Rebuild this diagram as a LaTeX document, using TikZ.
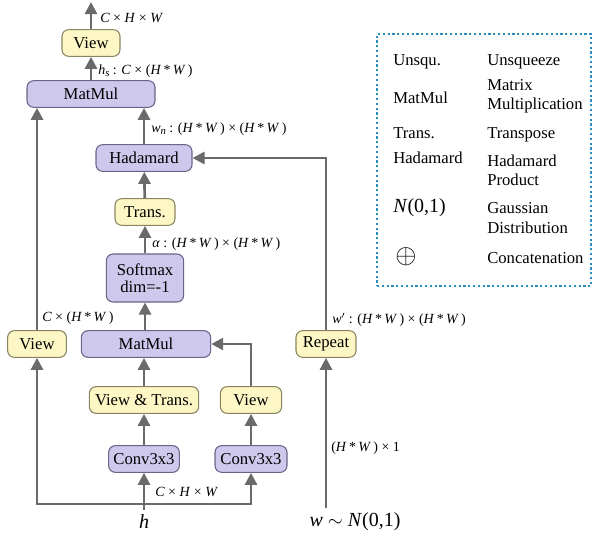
\documentclass[tikz,border=0pt]{standalone}
\usepackage{fontspec}
\setmainfont{Liberation Serif}
\usepackage{xcolor}
\usetikzlibrary{arrows.meta, positioning}
\definecolor{opfill}{HTML}{CDC8EC}
\definecolor{opline}{HTML}{6A6488}
\definecolor{vwfill}{HTML}{FCF7C4}
\definecolor{vwline}{HTML}{8A8460}
\definecolor{flow}{HTML}{6A6A6A}
\definecolor{legline}{HTML}{2A8FBF}
\newcommand{\HWt}{(\textit{H}\,*\,\textit{W}\,)}

\begin{document}
\begin{tikzpicture}[x=0.75pt, y=-0.75pt,
  every node/.style={font=\fontsize{12.5}{14}\selectfont},
  op/.style={draw=opline, fill=opfill, rounded corners=5pt, line width=0.8pt, minimum height=20pt, inner sep=2pt},
  vw/.style={op, draw=vwline, fill=vwfill},
  dimlbl/.style={font=\fontsize{10.5}{12}\selectfont, anchor=west, inner sep=0pt},
  legtxt/.style={anchor=west, align=left, inner sep=0pt, font=\fontsize{12.5}{14.5}\selectfont},
  >={Triangle[length=9pt, width=9pt]}]
  \useasboundingbox (0,0) rectangle (599,539);

  % Output branch (top)
  \node[vw, minimum width=43.5pt] (viewt) at (91,43) {View};
  \node[op, minimum width=96pt] (mmt) at (91,94) {MatMul};
  \coordinate (out) at (91,2);

  % Attention branch (middle)
  \node[op, minimum width=72pt] (hada) at (144,158) {Hadamard};
  \node[vw, minimum width=45pt] (trans) at (145,212) {Trans.};
  \node[op, minimum width=58pt, minimum height=36pt, align=center] (soft) at (145,278) {Softmax\\[-1pt]dim=-1};
  \node[op, minimum width=97pt] (mmm) at (146,344) {MatMul};

  % Lower row
  \node[vw, minimum width=44pt] (viewl) at (37,344) {View};
  \node[vw, minimum width=82pt] (vt) at (144,400) {View \& Trans.};
  \node[vw, minimum width=46pt] (viewr) at (251,400) {View};
  \node[op, minimum width=53pt] (convl) at (144,459) {Conv3x3};
  \node[op, minimum width=54pt] (convr) at (251,459) {Conv3x3};
  \node[vw, minimum width=45pt] (rep) at (326,344) {Repeat};

  % Inputs
  \node[font=\fontsize{15}{17}\selectfont\itshape] (h) at (144,522) {h};
  \node[font=\fontsize{15}{17}\selectfont] (w) at (355,522) {\textit{w} $\sim$ \textit{N}(0,1)};
  \coordinate (split) at (144,504);

  % Connectors
  \begin{scope}[draw=flow, line width=2pt, color=flow]
    \draw[->] (viewt) -- (out);
    \draw[->] (mmt) -- (viewt);
    \draw[->] (hada.north) -- (hada.north |- mmt.south);
    \draw[->] (viewl.north) -- (viewl.north |- mmt.south);
    \draw[->] (trans) -- (hada);
    \draw[->] (soft) -- (trans);
    \draw[->] (mmm.north -| soft) -- (soft);
    \draw[->] (viewr.north) |- (mmm.east);
    \draw[->] (rep.north) |- (hada.east);
    \draw[->] (vt.north) -- (vt.north |- mmm.south);
    \draw[->] (convl) -- (vt);
    \draw[->] (convr) -- (viewr);
    \draw[->] (h.north) -- (convl.south);
    \draw[->] (split) -| (viewl.south);
    \draw[->] (split) -| (convr.south);
    \draw[->] (w.north -| rep.south) -- (rep.south);
  \end{scope}

  % Shape labels
  \node[dimlbl] (l1) at (100,18) {\textit{C} × \textit{H} × \textit{W}};
  \node[dimlbl] (l2) at (98,71) {\textit{h}\raisebox{-0.35ex}{\fontsize{8}{9}\selectfont\textit{s}} : \textit{C} × \HWt};
  \node[dimlbl] (l3) at (151,129) {\textit{w}\raisebox{-0.35ex}{\fontsize{8}{9}\selectfont\textit{n}} : \HWt{} × \HWt};
  \node[dimlbl] (l4) at (152,244) {\textit{α} : \HWt{} × \HWt};
  \node[dimlbl] (l5) at (42,318) {\textit{C} × \HWt};
  \node[dimlbl] (l6) at (332,320) {\textit{w}$'$ : \HWt{} × \HWt};
  \node[dimlbl] (l7) at (155,492) {\textit{C} × \textit{H} × \textit{W}};
  \node[dimlbl] (l8) at (331,448) {\HWt{} × 1};

  % Legend
  \node[draw=legline, dotted, line width=1.6pt, minimum width=160.5pt, minimum height=189pt] (leg) at (484,160) {};
  \node[legtxt] (k1) at (393,62) {Unsqu.};
  \node[legtxt] (d1) at (487,62) {Unsqueeze};
  \node[legtxt] (k2) at (393,98) {MatMul};
  \node[legtxt] (d2) at (487,96) {Matrix\\Multiplication};
  \node[legtxt] (k3) at (393,133) {Trans.};
  \node[legtxt] (d3) at (487,135) {Transpose};
  \node[legtxt] (k4) at (393,158) {Hadamard};
  \node[legtxt] (d4) at (487,170) {Hadamard\\Product};
  \node[legtxt, font=\fontsize{15}{17}\selectfont] (k5) at (393,208) {\textit{N}(0,1)};
  \node[legtxt] (d5) at (487,218) {Gaussian\\Distribution};
  \node[legtxt] (k6) at (395,257) {\scalebox{1.7}{$\oplus$}};
  \node[legtxt] (d6) at (487,258) {Concatenation};
\end{tikzpicture}
\end{document}
